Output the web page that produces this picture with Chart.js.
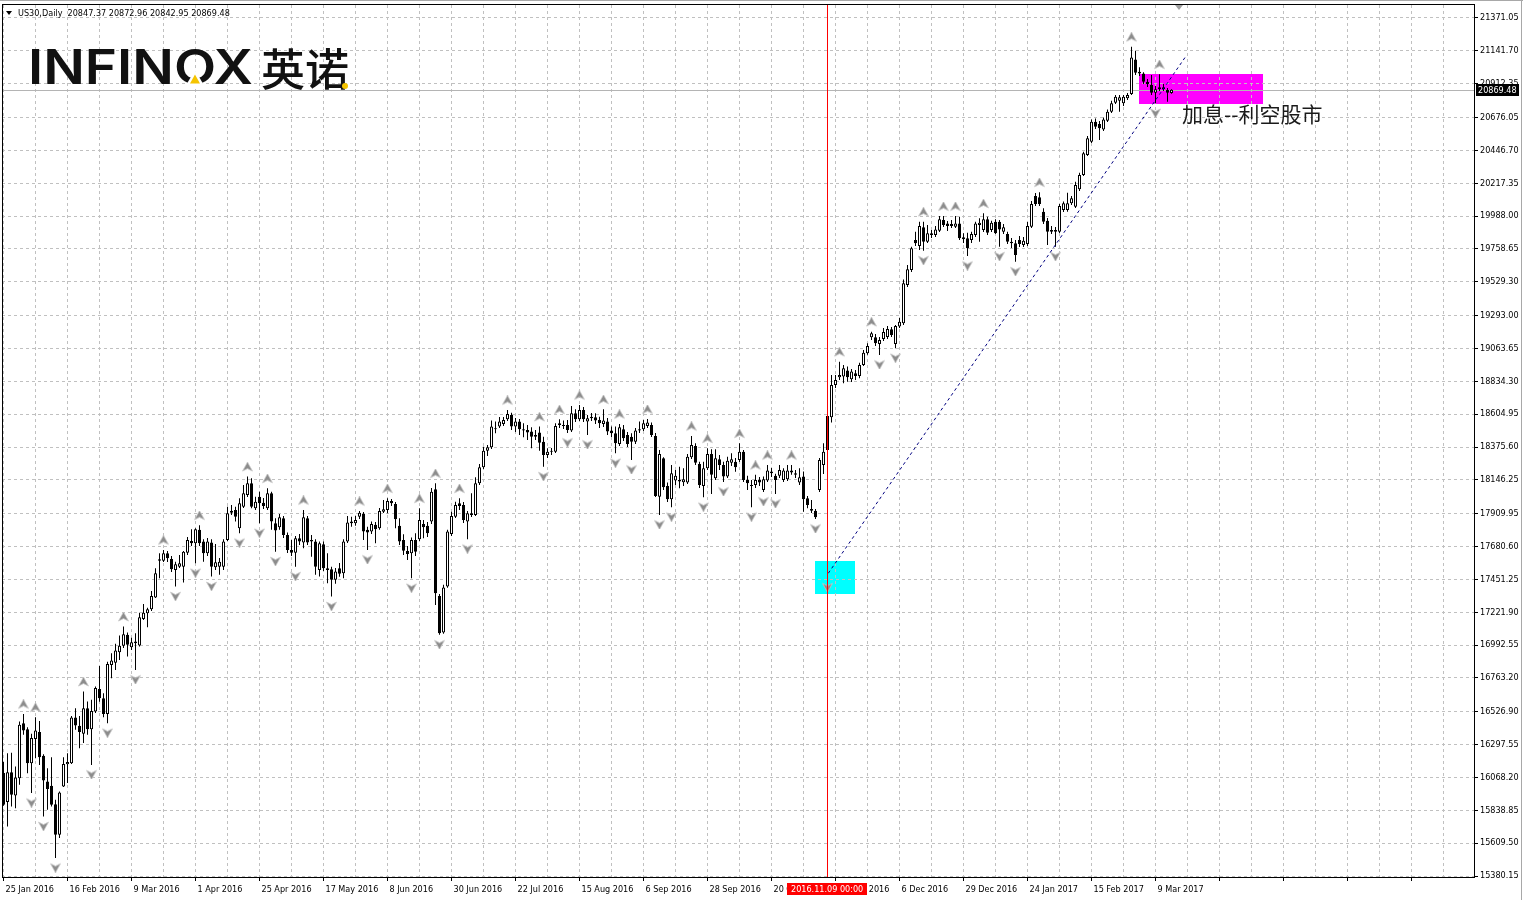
<!DOCTYPE html>
<html>
<head>
<meta charset="utf-8">
<script src="https://cdn.jsdelivr.net/npm/chart.js@4.4.1/dist/chart.umd.min.js"></script>
<style>
  html, body { margin: 0; padding: 0; background: #fff; overflow: hidden; }
  #wrap { width: 1523px; height: 900px; position: relative; }
</style>
</head>
<body>
<div id="wrap"><canvas id="chart"></canvas></div>
<script>
// US30 daily candles, 25 Jan 2016 .. 15 Mar 2017
const symbolName = 'US30,Daily';

const opens = [
  16100,15896,16105,15942,16063,16447,16405,16168,16336,16385,16219,16040,16010,15882,15668,16005,16161,16168,16486,16429,
  16373,16552,16405,16528,16685,16622,16512,16854,16870,16943,16987,17064,16978,17006,16989,17175,17215,17243,17324,17582,
  17582,17634,17594,17517,17540,17540,17638,17720,17704,17797,17715,17634,17708,17536,17540,17540,17727,17917,17936,17808,
  17959,18041,18123,17948,18029,17987,17948,18053,17843,17815,17878,17762,17657,17638,17739,17708,17878,17727,17715,17517,
  17697,17529,17522,17448,17529,17494,17715,17855,17843,17889,17908,17797,17785,17832,17808,17924,17936,17999,17978,17825,
  17727,17650,17634,17727,17732,17838,17825,17855,18081,17336,17080,17401,17769,17889,17983,17971,17855,17901,17901,18123,
  18234,18350,18374,18499,18518,18537,18569,18599,18518,18553,18499,18495,18483,18448,18476,18413,18320,18343,18343,18530,
  18523,18530,18490,18611,18569,18634,18553,18576,18583,18564,18537,18553,18490,18472,18397,18499,18460,18448,18413,18490,
  18499,18523,18530,18453,18029,18297,18104,18011,18141,18146,18130,18127,18304,18383,18257,18104,18227,18327,18158,18290,
  18250,18169,18266,18273,18285,18343,18146,18111,18111,18146,18076,18141,18204,18174,18174,18146,18151,18211,18181,18127,
  18169,18018,17943,17931,18076,18250,18355,18583,18809,18862,18867,18909,18848,18890,18872,18948,19030,19142,19142,19095,
  19130,19144,19197,19095,19217,19239,19507,19611,19821,19779,19910,19809,19868,19856,19886,19960,19937,19919,19914,19937,
  19840,19833,19821,19856,19926,19891,19965,19891,19949,19949,19879,19863,19809,19798,19821,19786,19793,19914,20128,20119,
  20018,19955,19891,19891,19879,20030,20030,20077,20053,20175,20275,20414,20507,20647,20631,20593,20654,20716,20779,20793,
  20775,20810,20840,21082,20996,20984,20926,20903,20849,20873,20873,20868,20847.37
];
const highs = [
  16177,16238,16240,16144,16459,16512,16419,16373,16489,16463,16231,16133,16210,15912,15970,16210,16238,16498,16552,16498,
  16668,16598,16610,16703,16847,16657,16877,16936,17001,17059,17122,17080,17043,17076,17219,17280,17254,17371,17529,17634,
  17657,17650,17615,17575,17622,17650,17748,17802,17808,17830,17732,17741,17732,17699,17601,17732,17959,17971,17959,18018,
  18111,18169,18158,18029,18064,18020,18088,18064,17878,17908,17894,17778,17727,17755,17769,17936,17894,17762,17732,17715,
  17715,17634,17540,17531,17566,17732,17894,17889,17894,17929,17922,17818,17855,17852,17950,18006,18018,18013,17992,17878,
  17767,17685,17743,17774,17948,17866,17852,18090,18123,17350,17413,17797,17924,17994,18018,17992,17929,18053,18165,18257,
  18378,18390,18560,18553,18585,18585,18634,18615,18578,18571,18541,18530,18513,18495,18518,18448,18367,18369,18541,18569,
  18560,18564,18662,18639,18669,18655,18599,18613,18611,18587,18639,18578,18518,18518,18537,18530,18481,18472,18509,18553,
  18564,18571,18546,18474,18355,18304,18127,18250,18215,18238,18227,18327,18453,18402,18273,18273,18367,18360,18360,18320,
  18273,18308,18332,18299,18402,18355,18174,18146,18181,18167,18169,18250,18229,18188,18250,18227,18250,18250,18215,18227,
  18204,18034,18006,17943,18299,18402,18606,18879,18879,18971,18948,18937,18920,18913,18964,19053,19100,19181,19165,19144,
  19207,19221,19214,19228,19276,19546,19646,19774,19879,19949,19949,19926,19891,19919,19988,19988,19953,19960,19988,19983,
  19868,19872,19879,19949,19972,20007,19983,19956,19965,19960,19933,19879,19835,19821,19849,19842,19947,20093,20149,20155,
  20042,19974,19919,19912,20072,20089,20151,20128,20228,20291,20437,20547,20663,20670,20651,20677,20733,20793,20833,20833,
  20833,20847,21170,21142,21028,20993,20945,20973,20896,20979,20910,20882,20872.96
];
const lows = [
  15870,15726,15865,15854,16017,16366,16098,15959,16203,16156,15795,15842,15865,15505,15645,16001,16029,16163,16401,16273,
  16308,16366,16156,16519,16596,16489,16447,16761,16819,16889,16973,16912,16959,16819,16982,17168,17117,17231,17322,17459,
  17573,17573,17503,17401,17531,17429,17622,17685,17564,17685,17575,17615,17471,17517,17483,17517,17720,17901,17855,17774,
  17950,18027,17948,17936,17843,17943,17936,17797,17645,17797,17741,17636,17615,17540,17692,17669,17692,17610,17483,17471,
  17510,17425,17331,17420,17469,17459,17706,17818,17825,17873,17727,17657,17769,17704,17797,17915,17913,17964,17808,17692,
  17622,17587,17459,17615,17720,17739,17748,17838,17273,17064,17071,17392,17755,17880,17936,17845,17732,17887,17894,18111,
  18222,18313,18362,18472,18509,18523,18557,18495,18481,18460,18444,18425,18367,18425,18350,18238,18299,18320,18334,18509,
  18502,18474,18481,18550,18557,18550,18460,18557,18536,18509,18516,18460,18446,18332,18383,18418,18376,18285,18397,18474,
  18488,18509,18446,18027,17901,18076,17992,17955,18111,18088,18104,18118,18292,18250,18090,18025,18215,18048,18146,18215,
  18132,18160,18243,18202,18271,18132,18076,17955,18090,18104,18062,18132,18167,18048,18160,18132,18139,18181,18160,18111,
  17924,17948,17915,17873,18062,18187,17462,18546,18788,18844,18821,18832,18830,18844,18855,18941,19019,19123,19081,19018,
  19116,19130,19144,19065,19207,19228,19493,19597,19779,19751,19746,19800,19835,19842,19877,19912,19883,19905,19905,19821,
  19800,19709,19800,19842,19809,19877,19856,19877,19863,19774,19863,19793,19765,19669,19772,19772,19779,19905,20058,20058,
  19932,19786,19863,19774,19870,20016,20018,20065,20044,20163,20268,20407,20498,20596,20519,20582,20645,20707,20770,20716,
  20756,20798,20833,20973,20966,20910,20889,20833,20775,20861,20861,20786,20842.95
];
const closes = [
  15877,16105,15947,16068,16436,16396,16168,16343,16396,16210,16047,15987,15877,15668,15963,16163,16177,16486,16431,16385,
  16552,16405,16533,16692,16622,16512,16861,16884,16954,16987,17069,16994,17013,17017,17187,17219,17243,17336,17494,17592,
  17634,17599,17522,17557,17564,17645,17727,17704,17802,17704,17634,17715,17540,17571,17575,17715,17913,17931,17889,17983,
  18053,18123,17959,17994,17983,17964,18053,17855,17792,17885,17762,17657,17638,17739,17715,17885,17708,17715,17540,17704,
  17529,17517,17448,17506,17490,17715,17848,17843,17866,17917,17785,17778,17838,17802,17929,17941,17999,17983,17871,17715,
  17652,17629,17727,17645,17866,17815,17774,18064,17355,17076,17394,17785,17894,17971,17964,17866,17913,17913,18123,18234,
  18350,18374,18518,18506,18553,18564,18606,18518,18553,18499,18490,18476,18448,18460,18406,18320,18343,18350,18523,18541,
  18530,18495,18611,18569,18634,18569,18576,18587,18560,18541,18560,18483,18472,18402,18513,18437,18397,18413,18490,18499,
  18541,18546,18460,18034,18327,18095,18011,18192,18174,18134,18150,18308,18390,18266,18111,18227,18327,18181,18297,18250,
  18169,18280,18290,18234,18343,18146,18123,18104,18146,18127,18151,18211,18192,18146,18215,18211,18211,18197,18192,18164,
  18011,17971,17931,17885,18285,18343,18592,18809,18844,18879,18925,18862,18902,18872,18948,19034,19081,19170,19100,19123,
  19179,19200,19158,19221,19251,19519,19616,19763,19798,19919,19809,19868,19856,19895,19965,19926,19919,19933,19937,19833,
  19826,19763,19863,19937,19942,19965,19872,19942,19868,19895,19910,19809,19798,19716,19793,19816,19919,20072,20072,20072,
  19948,19879,19879,19879,20058,20077,20077,20112,20205,20275,20426,20531,20647,20612,20601,20663,20716,20775,20821,20817,
  20821,20833,21096,20989,20984,20926,20910,20849,20873,20887,20887,20849,20869.48
];

// date labels, one every 16 bars
const xTickLabels = [
  '25 Jan 2016', '16 Feb 2016', '9 Mar 2016', '1 Apr 2016', '25 Apr 2016', '17 May 2016', '8 Jun 2016',
  '30 Jun 2016', '22 Jul 2016', '15 Aug 2016', '6 Sep 2016', '28 Sep 2016', '20 Oct 2016', '11 Nov 2016',
  '6 Dec 2016', '29 Dec 2016', '24 Jan 2017', '15 Feb 2017', '9 Mar 2017'
];
// price scale labels
const yTickValues = [
  21371.05, 21141.70, 20912.35, 20676.05, 20446.70, 20217.35, 19988.00, 19758.65, 19529.30, 19293.00,
  19063.65, 18834.30, 18604.95, 18375.60, 18146.25, 17909.95, 17680.60, 17451.25, 17221.90, 16992.55,
  16763.20, 16526.90, 16297.55, 16068.20, 15838.85, 15609.50, 15380.15
];

// objects drawn on the chart (bar index / price units)
const rateBox = { from: 283.9, to: 314.8, top: 20980, bottom: 20773 };   // magenta
const lowBox = { from: 202.9, to: 212.9, top: 17582, bottom: 17349 };    // cyan
const trend = { x0: 206.2, y0: 17494, x1: 295.4, y1: 21096 };
const note = { x: 294.6, y: 20700, text: '加息--利空股市' };
const crossBar = 206;
const crossLabel = '2016.11.09 00:00';

// visible window
const viewFrom = -0.375, viewTo = 367.625;
const priceMin = 15373.17, priceMax = 21461.82;

const FONT = "'DejaVu Sans Condensed', 'Liberation Sans', sans-serif";
const FONT_SIZE = 9;
const last = closes.length - 1;

// Bill Williams fractals
function fractals(vals, up) {
  const out = [];
  for (let i = 2; i < vals.length - 2; i++) {
    const v = vals[i];
    const ok = up
      ? v >= vals[i - 1] && v >= vals[i - 2] && v > vals[i + 1] && v > vals[i + 2]
      : v <= vals[i - 1] && v <= vals[i - 2] && v < vals[i + 1] && v < vals[i + 2];
    if (ok) out.push({ x: i, y: vals[i] });
  }
  return out;
}

function arrowImage(up) {
  const c = document.createElement('canvas');
  c.width = 11; c.height = 29;
  const g = c.getContext('2d');
  g.translate(5.5, up ? 5 : 24);
  if (!up) g.scale(1, -1);
  g.beginPath();
  g.moveTo(0, -5); g.lineTo(5, 4); g.lineTo(0, 1.5); g.lineTo(-5, 4); g.closePath();
  g.fillStyle = '#8c8c8c'; g.fill();
  g.strokeStyle = '#c8c8c8'; g.lineWidth = 0.8; g.stroke();
  return c;
}

function boxPx(chart, b) {
  const xs = chart.scales.x, ys = chart.scales.y;
  const x0 = xs.getPixelForValue(b.from), x1 = xs.getPixelForValue(b.to);
  const y0 = ys.getPixelForValue(b.top), y1 = ys.getPixelForValue(b.bottom);
  return [Math.round(x0), Math.round(y0), Math.round(x1 - x0), Math.round(y1 - y0)];
}

const backdrop = {
  id: 'backdrop',
  beforeDraw(chart) {
    const ctx = chart.ctx;
    ctx.save();
    ctx.fillStyle = '#fff';
    ctx.fillRect(0, 0, chart.width, chart.height);
    ctx.fillStyle = '#ff00ff';
    ctx.fillRect(...boxPx(chart, rateBox));
    ctx.fillStyle = '#00ffff';
    ctx.fillRect(...boxPx(chart, lowBox));
    ctx.restore();
  },
  beforeDatasetsDraw(chart) {
    const ctx = chart.ctx, a = chart.chartArea;
    ctx.save();
    // bid line
    const py = Math.round(chart.scales.y.getPixelForValue(closes[last])) + 0.5;
    ctx.strokeStyle = '#b4b4b4'; ctx.lineWidth = 1;
    ctx.beginPath(); ctx.moveTo(a.left, py); ctx.lineTo(a.right, py); ctx.stroke();

    // logo
    ctx.fillStyle = '#111';
    ctx.font = "600 48px Inter, 'Liberation Sans', sans-serif";
    ctx.textBaseline = 'alphabetic';
    const word = 'INFINOX';
    const sx = 225 / ctx.measureText(word).width;
    const oMid = 28 + (ctx.measureText('INFIN').width + ctx.measureText('O').width / 2) * sx;
    ctx.save();
    ctx.translate(28, 83.5); ctx.scale(sx, 1);
    ctx.fillText(word, 0, 0);
    ctx.restore();
    ctx.fillStyle = '#fff';
    ctx.beginPath(); ctx.moveTo(oMid, 70); ctx.lineTo(oMid - 10, 87); ctx.lineTo(oMid + 10, 87); ctx.closePath(); ctx.fill();
    ctx.fillStyle = '#f5c400';
    ctx.beginPath(); ctx.moveTo(oMid, 74.5); ctx.lineTo(oMid - 5, 83.5); ctx.lineTo(oMid + 5, 83.5); ctx.closePath(); ctx.fill();
    ctx.fillStyle = '#111';
    ctx.font = "500 44px 'Noto Sans CJK SC', sans-serif";
    ctx.textBaseline = 'middle';
    ctx.fillText('英诺', 261, 69);
    ctx.fillStyle = '#f5c400';
    ctx.beginPath(); ctx.arc(345, 86, 3, 0, Math.PI * 2); ctx.fill();
    ctx.restore();
  },
  afterDatasetsDraw(chart) {
    const ctx = chart.ctx, xs = chart.scales.x, ys = chart.scales.y;
    ctx.save();
    ctx.strokeStyle = '#000080'; ctx.lineWidth = 1; ctx.setLineDash([3, 3]);
    ctx.beginPath();
    ctx.moveTo(xs.getPixelForValue(trend.x0), ys.getPixelForValue(trend.y0));
    ctx.lineTo(xs.getPixelForValue(trend.x1), ys.getPixelForValue(trend.y1));
    ctx.stroke();
    ctx.setLineDash([]);
    ctx.fillStyle = '#1a1a1a';
    ctx.font = "21px 'Noto Sans CJK SC', sans-serif";
    ctx.textBaseline = 'middle';
    ctx.fillText(note.text, xs.getPixelForValue(note.x), ys.getPixelForValue(note.y));
    ctx.restore();
  },
  afterDraw(chart) {
    const ctx = chart.ctx, a = chart.chartArea, xs = chart.scales.x, ys = chart.scales.y;
    ctx.save();
    // window edges
    ctx.fillStyle = '#a8a8a8';
    ctx.fillRect(0, 0, chart.width, 1);
    ctx.fillRect(1521, 0, 1, chart.height);
    // frame
    ctx.strokeStyle = '#000'; ctx.lineWidth = 1;
    ctx.strokeRect(a.left + 0.5, a.top - 0.5, a.right - a.left, a.bottom - a.top + 1);
    // crosshair
    const cx = Math.round(xs.getPixelForValue(crossBar)) - 0.5;
    ctx.strokeStyle = '#ff0000';
    ctx.beginPath(); ctx.moveTo(cx, a.top); ctx.lineTo(cx, a.bottom); ctx.stroke();
    ctx.font = FONT_SIZE + 'px ' + FONT;
    ctx.textBaseline = 'middle';
    const lw = ctx.measureText(crossLabel).width + 8;
    ctx.fillStyle = '#ff0000';
    ctx.fillRect(Math.round(cx - lw / 2), a.bottom + 6, Math.round(lw), 12);
    ctx.fillStyle = '#fff';
    ctx.fillText(crossLabel, Math.round(cx - lw / 2) + 4, a.bottom + 12.5);
    // bid price box
    const py = Math.round(ys.getPixelForValue(closes[last]));
    ctx.fillStyle = '#000';
    ctx.fillRect(a.right + 2, py - 6, 43, 12);
    ctx.fillStyle = '#fff';
    ctx.fillText(closes[last].toFixed(2), a.right + 4, py + 0.5);
    // header
    ctx.fillStyle = '#000';
    ctx.beginPath(); ctx.moveTo(6, 11); ctx.lineTo(12, 11); ctx.lineTo(9, 15); ctx.closePath(); ctx.fill();
    const hdr = symbolName + '  ' + [opens[last], highs[last], lows[last], closes[last]].map(v => v.toFixed(2)).join(' ');
    ctx.fillText(hdr, 18, 13.5);
    // chart shift marker
    ctx.fillStyle = '#a0a0a0';
    ctx.beginPath(); ctx.moveTo(1175, 5); ctx.lineTo(1183, 5); ctx.lineTo(1179, 10); ctx.closePath(); ctx.fill();
    ctx.restore();
  }
};

const bars = opens.map((o, i) => i);

new Chart(document.getElementById('chart'), {
  type: 'bar',
  data: {
    datasets: [
      {
        type: 'scatter', label: 'fractal up', order: 0,
        data: fractals(highs, true),
        pointStyle: arrowImage(true), pointRadius: 5
      },
      {
        type: 'scatter', label: 'fractal down', order: 0,
        data: fractals(lows, false),
        pointStyle: arrowImage(false), pointRadius: 5
      },
      {
        label: 'body', order: 1, grouped: false,
        data: bars.map(i => ({ x: i, y: [opens[i], closes[i]] })),
        barThickness: 3, minBarLength: 1, inflateAmount: 0,
        backgroundColor: c => (closes[c.dataIndex] >= opens[c.dataIndex] ? '#fff' : '#000'),
        borderColor: '#000', borderWidth: 1, borderSkipped: false
      },
      {
        label: 'wick', order: 2, grouped: false,
        data: bars.map(i => ({ x: i, y: [lows[i], highs[i]] })),
        barThickness: 1, inflateAmount: 0,
        backgroundColor: '#000', borderWidth: 0
      }
    ]
  },
  options: {
    responsive: true,
    maintainAspectRatio: false,
    devicePixelRatio: 1,
    animation: false,
    events: [],
    layout: { autoPadding: false, padding: { left: 2, top: 5, right: 0, bottom: 0 } },
    plugins: { legend: { display: false }, tooltip: { enabled: false } },
    scales: {
      x: {
        type: 'linear', min: viewFrom, max: viewTo, offset: false,
        afterBuildTicks: s => {
          const t = [];
          for (let v = 0; v <= viewTo; v += 8) t.push({ value: v });
          s.ticks = t;
        },
        afterFit: s => { s.height = 23; s.paddingLeft = 0; s.paddingRight = 0; },
        grid: {
          offset: false, color: '#c0c0c0', lineWidth: 1, tickLength: 4,
          tickColor: c => (c.index % 2 === 0 ? '#000' : 'rgba(0,0,0,0)')
        },
        border: { display: false, dash: [3, 3] },
        ticks: {
          autoSkip: false, maxRotation: 0, align: 'start', labelOffset: 2, padding: 3,
          color: '#000', font: { family: FONT, size: FONT_SIZE },
          callback: (v, i) => (i % 2 === 0 ? (xTickLabels[i / 2] || '') : '')
        }
      },
      y: {
        position: 'right', min: priceMin, max: priceMax,
        afterBuildTicks: s => { s.ticks = yTickValues.map(v => ({ value: v })); },
        afterFit: s => { s.width = 49; s.paddingTop = 0; s.paddingBottom = 0; },
        grid: { color: '#c0c0c0', lineWidth: 1, tickLength: 4, tickColor: '#000' },
        border: { display: false, dash: [3, 3] },
        ticks: {
          autoSkip: false, padding: 2, color: '#000', font: { family: FONT, size: FONT_SIZE },
          callback: v => v.toFixed(2)
        }
      }
    }
  },
  plugins: [backdrop]
});
</script>
</body>
</html>
